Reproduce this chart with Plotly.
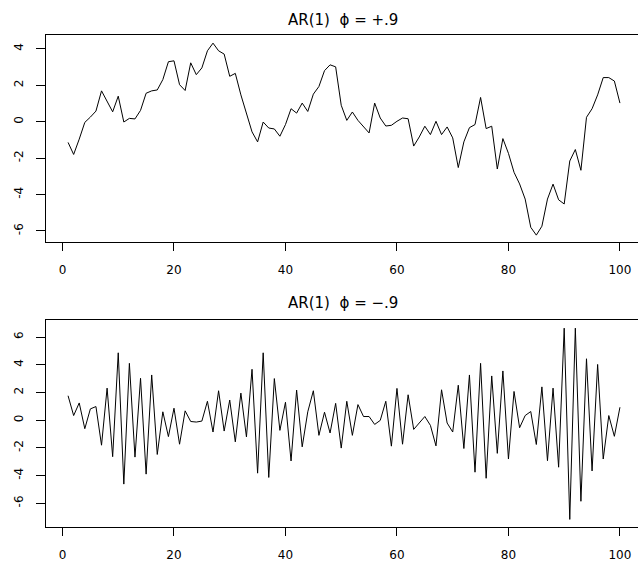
import plotly.graph_objects as go

# ---- data ----
t = list(range(1, 101))

ar_pos = [
    -1.14, -1.80, -0.96, -0.04, 0.25, 0.58, 1.69, 1.11, 0.54, 1.40,
    -0.02, 0.18, 0.15, 0.62, 1.56, 1.69, 1.74, 2.31, 3.29, 3.34,
    2.03, 1.71, 3.23, 2.58, 2.95,
    3.89, 4.31, 3.89, 3.71, 2.49, 2.65, 1.47, 0.44, -0.56, -1.11,
    -0.02, -0.35, -0.40, -0.80, -0.16, 0.71, 0.47, 1.02, 0.56, 1.51,
    1.93, 2.80, 3.12, 3.01, 0.90, 0.07,
    0.53, 0.07, -0.29, -0.62, 1.02, 0.20, -0.24, -0.20, 0.02, 0.20,
    0.16, -1.34, -0.84, -0.25, -0.71, 0.02, -0.71, -0.29, -0.89, -2.52,
    -1.11, -0.33, -0.16, 1.33, -0.38, -0.25, -2.60,
    -0.93, -1.74, -2.78, -3.42, -4.25, -5.80, -6.23, -5.74, -4.25, -3.43,
    -4.29, -4.52, -2.16, -1.53, -2.67, 0.24, 0.71, 1.47, 2.42, 2.42,
    2.23, 1.02,
]

ar_neg = [
    1.76, 0.33, 1.24, -0.62, 0.81, 0.98, -1.81, 2.31, -2.64, 4.86,
    -4.62, 4.10, -2.67, 3.02, -3.90, 3.26, -2.48, 0.60, -1.19, 0.86,
    -1.74, 0.67, -0.10,
    -0.14, -0.07, 1.36, -0.86, 2.12, -0.79, 1.45, -1.57, 1.95, -1.21,
    3.67, -3.83, 4.86, -4.14, 3.00, -0.74, 1.29, -2.95, 2.17, -1.93,
    0.60, 2.12, -1.10, 0.57, -0.93, 1.21, -2.02,
    1.36, -1.10, 1.12, 0.26, 0.26, -0.31, -0.02, 1.36, -1.88, 2.29,
    -1.74, 1.83, -0.67, -0.21, 0.26, -0.38, -1.86, 2.19, -0.21, -0.86,
    2.52, -2.05, 3.26, -3.76,
    4.10, -4.20, 3.19, -2.40, 3.55, -2.81, 2.07, -0.55, 0.33, 0.62,
    -1.76, 2.40, -2.93, 2.31, -3.40, 6.64, -7.17, 6.64, -5.86, 4.43,
    -3.67, 4.02, -2.81, 0.33, -1.17, 0.93,
]

x_ticks = [0, 20, 40, 60, 80, 100]
x_ticktext = ["0", "20", "40", "60", "80", "100"]
y1_ticks = [-6, -4, -2, 0, 2, 4]
y1_ticktext = ["-6", "-4", "-2", "0", "2", "4"]
y2_ticks = [-6, -4, -2, 0, 2, 4, 6]
y2_ticktext = ["-6", "-4", "-2", "0", "2", "4", "6"]

title_top = "AR(1)  \u03d5 = +.9"
title_bot = "AR(1)  \u03d5 = \u2212.9"

W, H = 638, 562
FONT = "DejaVu Sans"

fig = go.Figure()
fig.add_trace(go.Scatter(x=t, y=ar_pos, mode="lines",
                         line=dict(color="black", width=1),
                         xaxis="x", yaxis="y", showlegend=False))
fig.add_trace(go.Scatter(x=t, y=ar_neg, mode="lines",
                         line=dict(color="black", width=1),
                         xaxis="x2", yaxis="y2", showlegend=False))

def xax(anchor):
    return dict(range=[-2.96, 103.24], tickvals=x_ticks, ticktext=x_ticktext,
                ticks="outside", ticklen=8, tickcolor="black", tickwidth=1,
                showline=True, linecolor="black", linewidth=1, mirror=True,
                showgrid=False, zeroline=False, anchor=anchor,
                tickfont=dict(family=FONT, size=12, color="black"),
                ticklabelstandoff=9, domain=[0, 1])

def yax(rng, vals, text, dom, anchor):
    return dict(range=rng, tickvals=vals, ticktext=text, domain=dom,
                ticks="outside", ticklen=9, tickcolor="black", tickwidth=1,
                showline=True, linecolor="black", linewidth=1, mirror=False,
                showgrid=False, zeroline=False, anchor=anchor, tickangle=-90,
                tickfont=dict(family=FONT, size=12, color="black"),
                ticklabelstandoff=8)

top_dom = [1 - 244.3 / H, 1 - 35.7 / H]
bot_dom = [1 - 532.3 / H, 1 - 323.3 / H]

fig.update_layout(
    width=W, height=H,
    margin=dict(l=46, r=0, t=0, b=0),
    paper_bgcolor="white", plot_bgcolor="white",
    hovermode=False,
    xaxis=xax("y"),
    yaxis=yax([-6.59, 4.74], y1_ticks, y1_ticktext, top_dom, "x"),
    xaxis2=xax("y2"),
    yaxis2=yax([-7.69, 7.24], y2_ticks, y2_ticktext, bot_dom, "x2"),
    annotations=[
        dict(text=title_top, xref="paper", yref="paper",
             x=(343 - 46) / (W - 46), y=1 - 20 / H,
             xanchor="center", yanchor="middle", showarrow=False,
             font=dict(family=FONT, size=15, color="black")),
        dict(text=title_bot, xref="paper", yref="paper",
             x=(343 - 46) / (W - 46), y=1 - 306.5 / H,
             xanchor="center", yanchor="middle", showarrow=False,
             font=dict(family=FONT, size=15, color="black")),
    ],
)

fig.write_html(
    "out.html",
    config={"displayModeBar": False, "staticPlot": True},
    post_script="document.body.style.margin='0';document.body.style.overflow='hidden';",
)
